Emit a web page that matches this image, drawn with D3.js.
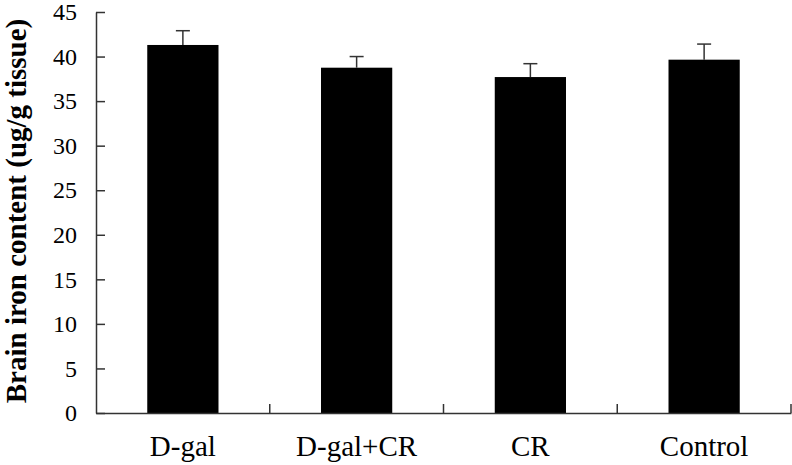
<!DOCTYPE html>
<html>
<head>
<meta charset="utf-8">
<script src="https://cdn.jsdelivr.net/npm/d3@7"></script>
<style>
  body { margin: 0; background: #fff; }
  svg { display: block; }
</style>
</head>
<body>
<div id="chart"></div>
<script>
var groups = ["D-gal", "D-gal+CR", "CR", "Control"];
var ironMean = [41.3, 38.75, 37.7, 39.65];
var ironErr = [1.6, 1.25, 1.5, 1.75];
var yTicks = [0, 5, 10, 15, 20, 25, 30, 35, 40, 45];

var width = 792, height = 465;
var margin = { top: 12, left: 96, bottom: 52, right: 1 };

var svg = d3.select("#chart").append("svg")
    .attr("width", width)
    .attr("height", height);

var x = d3.scaleBand()
    .domain(groups)
    .range([margin.left, width - margin.right])
    .paddingInner(0.59)
    .paddingOuter(0.295);

var y = d3.scaleLinear()
    .domain([0, 45])
    .range([height - margin.bottom, margin.top]);

var font = "'Liberation Serif', 'Times New Roman', serif";

// bars
svg.selectAll("rect.bar")
    .data(groups)
    .enter()
    .append("rect")
    .attr("class", "bar")
    .attr("x", function(d){ return x(d); })
    .attr("y", function(d, i){ return y(ironMean[i]); })
    .attr("width", x.bandwidth())
    .attr("height", function(d, i){ return y(0) - y(ironMean[i]); })
    .attr("fill", "#000");

// error bars (upper only)
var err = svg.selectAll("g.err")
    .data(groups)
    .enter()
    .append("g")
    .attr("class", "err")
    .attr("stroke", "#333")
    .attr("stroke-width", 1.5);

err.append("line")
    .attr("x1", function(d){ return x(d) + x.bandwidth() / 2; })
    .attr("x2", function(d){ return x(d) + x.bandwidth() / 2; })
    .attr("y1", function(d, i){ return y(ironMean[i]); })
    .attr("y2", function(d, i){ return y(ironMean[i] + ironErr[i]); });

err.append("line")
    .attr("x1", function(d){ return x(d) + x.bandwidth() / 2 - 7; })
    .attr("x2", function(d){ return x(d) + x.bandwidth() / 2 + 7; })
    .attr("y1", function(d, i){ return y(ironMean[i] + ironErr[i]); })
    .attr("y2", function(d, i){ return y(ironMean[i] + ironErr[i]); });

// y axis, ticks pointing inward
var yAxis = svg.append("g")
    .attr("transform", "translate(" + margin.left + ",0)")
    .call(d3.axisLeft(y).tickValues(yTicks).tickSizeInner(-9).tickSizeOuter(0).tickPadding(19));

// x axis, ticks at band boundaries pointing up
var xAxis = svg.append("g")
    .attr("transform", "translate(0," + y(0) + ")")
    .call(d3.axisBottom(x).tickSize(0).tickPadding(22));

var step = x.step();
xAxis.selectAll("line.sep")
    .data(d3.range(1, groups.length + 1))
    .enter()
    .append("line")
    .attr("class", "sep")
    .attr("x1", function(d){ return margin.left + d * step; })
    .attr("x2", function(d){ return margin.left + d * step; })
    .attr("y1", 0)
    .attr("y2", -9)
    .attr("stroke", "#333")
    .attr("stroke-width", 1.5);

[yAxis, xAxis].forEach(function(a){
    a.select(".domain").attr("stroke", "#333").attr("stroke-width", 1.5);
    a.selectAll(".tick line").attr("stroke", "#333").attr("stroke-width", 1.5);
    a.selectAll("text")
        .attr("fill", "#000")
        .attr("font-family", font)
        .style("font-family", font);
});
yAxis.selectAll("text").style("font-size", "24px");
xAxis.selectAll("text").style("font-size", "29px");

// y axis title
svg.append("text")
    .attr("transform", "translate(26,211) rotate(-90)")
    .attr("text-anchor", "middle")
    .style("font-family", font)
    .style("font-weight", "bold")
    .style("font-size", "29px")
    .text("Brain iron content (ug/g tissue)");
</script>
</body>
</html>
